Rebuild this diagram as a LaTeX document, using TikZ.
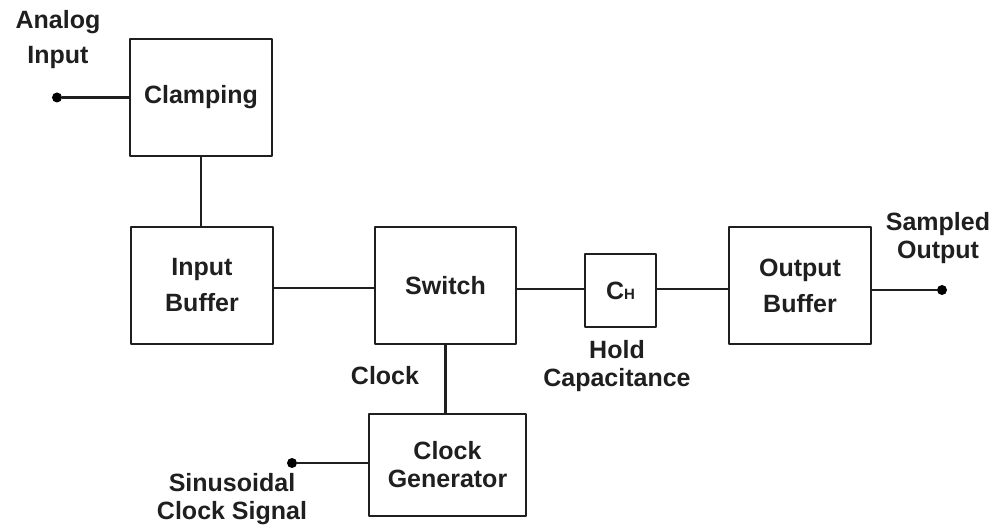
\documentclass[tikz,border=0pt]{standalone}
\usepackage{fontspec}
\setmainfont{Liberation Sans}
\begin{document}
\begin{tikzpicture}[
		% styles
		blok/.style={draw, line width=2.9pt, inner sep=0pt, align=center, minimum width=142pt, minimum height=117pt},
		noi/.style={line width=2.3pt},
		diem/.style={circle, fill=black, inner sep=0pt, minimum size=10pt},
		ten/.style={align=center},
		x=1pt,y=-1pt,line join=round,font=\fontsize{25}{28}\selectfont\bfseries,color=black!88]
		\useasboundingbox (0,0) rectangle (998,526);

		% cac khoi
		\node[blok] (clamp) at (201,97.5) {Clamping};
		\node[blok] (inbuf) at (202,285.5) {Input\\[8pt]Buffer};
		\node[blok, minimum width=141pt] (switch) at (445.5,285.5) {Switch};
		\node[blok, minimum width=71pt, minimum height=73pt] (ch) at (620.5,290.5) {C{\fontsize{15}{15}\selectfont H}};
		\node[blok] (outbuf) at (800,285.5) {Output\\[8pt]Buffer};
		\node[blok, minimum width=157pt, minimum height=102pt] (clkgen) at (447.5,465) {Clock\\Generator};

		% cac diem dau vao / dau ra
		\node[diem] (ain) at (57,97.5) {};
		\node[diem] (sout) at (942,290) {};
		\node[diem] (sin) at (292,463) {};

		% cac nhan
		\node[ten] (ainlbl) at (58,40) {Analog\\[7pt]Input};
		\node[ten] (soutlbl) at (938,238) {Sampled\\Output};
		\node[ten] (holdlbl) at (617,366) {Hold\\Capacitance};
		\node[ten] (clklbl) at (385,376) {Clock};
		\node[ten] (sinlbl) at (232,499) {Sinusoidal\\Clock Signal};

		% cac duong noi
		\draw[noi] (ain) -- (clamp.west);
		\draw[noi] (clamp.south) -- (clamp.south |- inbuf.north);
		\draw[noi] (inbuf.east |- 0,288) -- (switch.west |- 0,288);
		\draw[noi] (ch.west |- 0,289) -- (switch.east |- 0,289);
		\draw[noi] (ch.east |- 0,289) -- (outbuf.west |- 0,289);
		\draw[noi] (outbuf.east |- sout) -- (sout);
		\draw[noi] (switch.south) -- (switch.south |- clkgen.north);
		\draw[noi] (sin) -- (sin -| clkgen.west);

	\end{tikzpicture}
\end{document}
